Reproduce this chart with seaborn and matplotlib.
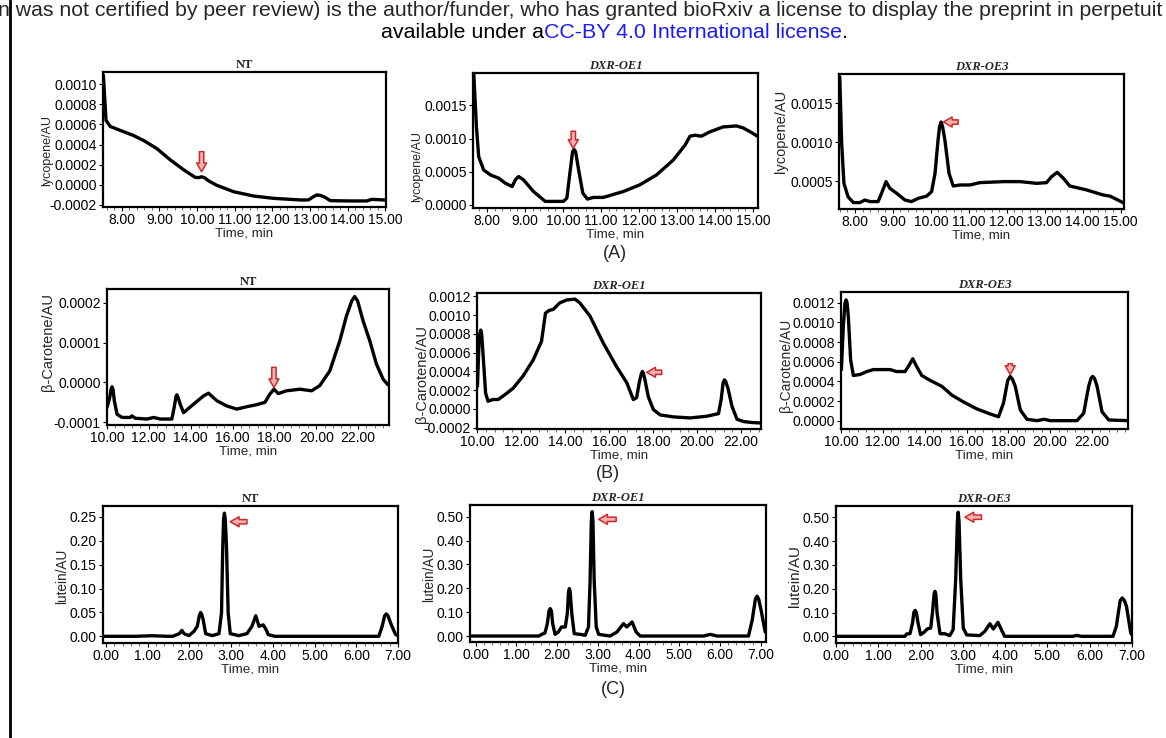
import matplotlib
matplotlib.use("Agg")
import matplotlib.pyplot as plt
import seaborn as sns
from matplotlib.lines import Line2D
from matplotlib.ticker import FixedLocator, FormatStrFormatter, AutoMinorLocator

# ---------------------------------------------------------------------------
# Data (time in min, absorbance in AU)
# (A) lycopene
lyc_nt_t = [7.51, 7.58, 7.69, 7.96, 8.31, 8.58, 8.93, 9.28, 9.64, 9.95, 10.05, 10.12, 10.20,
            10.30, 10.52, 10.97, 11.50, 12.03, 12.74, 12.96, 13.08, 13.18, 13.28, 13.40,
            13.54, 14.07, 14.51, 14.64, 14.95, 15.02]
lyc_nt_v = [0.00109, 0.00064, 0.00058, 0.00054, 0.00049, 0.00044, 0.00036, 0.00025,
            0.00015, 0.000074, 0.000072, 0.00008, 0.00007, 0.000041, -0.000004, -0.000068,
            -0.000111, -0.000134, -0.00015, -0.00015, -0.00012, -0.0001, -0.000105,
            -0.000124, -0.000157, -0.00016, -0.00016, -0.000144, -0.00015, -0.00015]

lyc_oe1_t = [7.65, 7.72, 7.78, 7.91, 8.09, 8.31, 8.48, 8.66, 8.75, 8.83, 8.96, 9.22, 9.53,
             9.75, 10.01, 10.10, 10.19, 10.25, 10.29, 10.33, 10.41, 10.52, 10.64, 10.80,
             11.06, 11.59, 12.02, 12.46, 12.90, 13.21, 13.34, 13.47, 13.64, 13.86, 14.21,
             14.56, 14.74, 14.96, 15.13]
lyc_oe1_v = [0.00198, 0.00118, 0.000725, 0.000525, 0.00045, 0.0004, 0.000325, 0.000275,
             0.00038, 0.000425, 0.000375, 0.0002, 0.00005, 0.00005, 0.00005, 0.0001,
             0.000525, 0.0008, 0.000835, 0.0008, 0.000525, 0.000175, 0.000085, 0.00011,
             0.00011, 0.0002, 0.0003, 0.00045, 0.000675, 0.0009, 0.001035, 0.00105,
             0.001035, 0.0011, 0.001175, 0.00119, 0.00116, 0.00109, 0.00103]

lyc_oe3_t = [7.60, 7.65, 7.71, 7.82, 7.96, 8.13, 8.26, 8.40, 8.61, 8.70, 8.82, 8.92, 9.10,
             9.32, 9.49, 9.67, 9.89, 10.02, 10.11, 10.19, 10.23, 10.27, 10.31, 10.37,
             10.48, 10.59, 10.77, 11.03, 11.29, 11.91, 12.35, 12.79, 13.05, 13.18, 13.33,
             13.49, 13.66, 14.10, 14.54, 14.72, 14.89, 15.09]
lyc_oe3_v = [0.00184, 0.00099, 0.000474, 0.0003, 0.000227, 0.000227, 0.00026, 0.00024,
             0.00024, 0.000346, 0.000496, 0.00041, 0.000346, 0.00026, 0.00024, 0.000282,
             0.00031, 0.000368, 0.0006, 0.00103, 0.0012, 0.00126, 0.0012, 0.00103, 0.0006,
             0.00044, 0.000453, 0.000453, 0.000483, 0.000496, 0.000496, 0.000474,
             0.000483, 0.00056, 0.000615, 0.00054, 0.00044, 0.00039, 0.000325, 0.00031,
             0.00027, 0.00022]

# (B) beta-carotene
car_nt_t = [10.00, 10.13, 10.20, 10.24, 10.29, 10.35, 10.48, 10.72, 11.11, 11.19, 11.35,
            11.91, 12.23, 12.54, 13.10, 13.21, 13.30, 13.34, 13.40, 13.50, 13.66, 14.13,
            14.61, 14.85, 15.25, 15.72, 16.20, 16.68, 17.15, 17.55, 17.79, 17.98, 18.19,
            18.58, 19.22, 19.78, 20.17, 20.65, 21.13, 21.45, 21.70, 21.84, 21.98, 22.24,
            22.56, 22.88, 23.20, 23.43]
car_nt_v = [-0.000063, -0.000038, -0.000016, -0.000011, -0.000018, -0.000046, -0.00008,
            -0.000088, -0.000088, -0.000084, -0.00009, -0.000092, -0.000088, -0.000092,
            -0.000092, -0.000063, -0.000035, -0.000031, -0.000038, -0.000055, -0.000076,
            -0.000055, -0.000034, -0.000027, -0.000046, -0.000059, -0.000067, -0.000061,
            -0.000056, -0.00005, -0.000029, -0.000017, -0.000028, -0.000021, -0.000017,
            -0.000021, -0.000008, 0.000029, 0.000105, 0.000168, 0.000205, 0.000216,
            0.000205, 0.000155, 0.000105, 0.000046, 0.000008, -0.000006]

car_oe1_t = [10.02, 10.09, 10.13, 10.17, 10.21, 10.27, 10.39, 10.50, 10.73, 10.96, 11.26,
             11.64, 12.09, 12.55, 12.93, 13.11, 13.28, 13.46, 13.76, 14.07, 14.45, 14.67,
             15.13, 15.74, 16.34, 16.80, 17.10, 17.25, 17.37, 17.46, 17.51, 17.56, 17.63,
             17.78, 18.01, 18.32, 18.92, 19.68, 20.44, 20.97, 21.09, 21.18, 21.24, 21.30,
             21.40, 21.58, 21.81, 22.11, 22.50, 22.87]
car_oe1_v = [0.00024, 0.0007, 0.0008, 0.00084, 0.0008, 0.0006, 0.00017, 0.000082, 0.0001,
             0.0001, 0.00015, 0.00022, 0.00035, 0.00052, 0.00072, 0.00102, 0.00105,
             0.00106, 0.00113, 0.00116, 0.00117, 0.00113, 0.00099, 0.0007, 0.00045,
             0.00028, 0.0001, 0.00012, 0.00028, 0.00037, 0.0004, 0.00038, 0.00031, 0.00013,
             -0.000007, -0.000064, -0.000085, -0.000096, -0.000078, -0.00005, 0.0001,
             0.00028, 0.00031, 0.00029, 0.00022, 0.00003, -0.00011, -0.000135, -0.000145,
             -0.00015]

car_oe3_t = [10.02, 10.11, 10.19, 10.24, 10.29, 10.35, 10.46, 10.59, 10.91, 11.23, 11.55,
             12.35, 12.66, 13.06, 13.27, 13.43, 13.62, 13.86, 14.26, 14.82, 15.30, 15.86,
             16.49, 17.13, 17.53, 17.77, 17.97, 18.09, 18.20, 18.33, 18.57, 18.89, 19.37,
             19.72, 20.00, 21.28, 21.60, 21.84, 21.95, 22.03, 22.12, 22.24, 22.48, 22.80,
             23.68]
car_oe3_v = [0.00052, 0.00096, 0.0012, 0.00123, 0.0012, 0.00106, 0.00062, 0.00046, 0.00047,
             0.0005, 0.00052, 0.00052, 0.0005, 0.0005, 0.00057, 0.00063, 0.00055, 0.00046,
             0.00041, 0.00035, 0.00026, 0.00019, 0.00012, 0.000068, 0.00004, 0.00018,
             0.00041, 0.00045, 0.00042, 0.00035, 0.00011, 0.000014, 0.0, 0.000014, 0.0, 0.0,
             0.000075, 0.00035, 0.00043, 0.00045, 0.00043, 0.00035, 0.00009, 0.000007, 0.0]

# (C) lutein
lut_nt_t = [-0.06, 0.70, 1.10, 1.50, 1.60, 1.76, 1.82, 1.87, 1.99, 2.11, 2.19, 2.24, 2.27,
            2.30, 2.33, 2.39, 2.55, 2.71, 2.77, 2.80, 2.82, 2.84, 2.86, 2.89, 2.93, 2.98,
            3.18, 3.38, 3.50, 3.59, 3.67, 3.77, 3.84, 3.89, 4.05, 6.54, 6.62, 6.68, 6.72,
            6.76, 6.84, 6.94, 7.00]
lut_nt_v = [0.0, 0.0, 0.0012, 0.0, 0.0, 0.0056, 0.0125, 0.0056, 0.0014, 0.0104, 0.021,
            0.044, 0.05, 0.045, 0.035, 0.0056, 0.0014, 0.0056, 0.049, 0.187, 0.245, 0.258,
            0.245, 0.187, 0.049, 0.0056, 0.0014, 0.0056, 0.021, 0.043, 0.021, 0.024, 0.014,
            0.0035, 0.0, 0.0, 0.021, 0.043, 0.047, 0.043, 0.024, 0.004, 0.001]

lut_oe1_t = [-0.14, 1.55, 1.62, 1.70, 1.76, 1.80, 1.83, 1.86, 1.89, 1.95, 2.03, 2.11, 2.20,
             2.25, 2.28, 2.30, 2.32, 2.36, 2.42, 2.57, 2.69, 2.77, 2.81, 2.84, 2.86, 2.88,
             2.91, 2.96, 3.02, 3.30, 3.47, 3.63, 3.71, 3.84, 3.94, 4.04, 5.60, 5.76, 5.93,
             6.70, 6.79, 6.87, 6.91, 6.95, 7.01, 7.11]
lut_oe1_v = [0.0, 0.0, 0.007, 0.0126, 0.052, 0.105, 0.115, 0.105, 0.052, 0.007, 0.017,
             0.038, 0.038, 0.094, 0.185, 0.199, 0.185, 0.094, 0.0098, 0.007, 0.003, 0.038,
             0.234, 0.48, 0.521, 0.48, 0.234, 0.038, 0.007, 0.0, 0.017, 0.052, 0.038, 0.059,
             0.017, 0.0, 0.0, 0.007, 0.0, 0.0, 0.066, 0.155, 0.167, 0.155, 0.108, 0.017]

lut_oe3_t = [0.0, 1.63, 1.67, 1.75, 1.81, 1.84, 1.87, 1.90, 1.94, 2.00, 2.08, 2.16, 2.24,
             2.28, 2.32, 2.34, 2.36, 2.39, 2.46, 2.57, 2.69, 2.77, 2.83, 2.87, 2.89, 2.91,
             2.95, 3.01, 3.09, 3.40, 3.52, 3.64, 3.72, 3.83, 3.91, 3.99, 5.60, 5.69, 5.80,
             6.55, 6.63, 6.72, 6.77, 6.82, 6.87, 6.97, 7.00]
lut_oe3_v = [0.0, 0.0, 0.01, 0.011, 0.056, 0.1, 0.109, 0.1, 0.056, 0.007, 0.017, 0.031,
             0.035, 0.098, 0.178, 0.189, 0.178, 0.098, 0.011, 0.011, 0.003, 0.028, 0.237,
             0.48, 0.521, 0.48, 0.237, 0.035, 0.006, 0.003, 0.021, 0.053, 0.031, 0.059,
             0.028, 0.0, 0.0, 0.004, 0.0, 0.0, 0.042, 0.15, 0.161, 0.15, 0.126, 0.014,
             0.006]

# tick values
lyc_xticks = [8, 9, 10, 11, 12, 13, 14, 15]
car_xticks = [10, 12, 14, 16, 18, 20, 22]
lut_xticks = [0, 1, 2, 3, 4, 5, 6, 7]

# marked peaks: (tail, tip) of the red arrows
arrows = {
    "lyc_nt": ((10.12, 0.00033), (10.12, 0.00013)),
    "lyc_oe1": ((10.27, 0.00111), (10.27, 0.00085)),
    "lyc_oe3": ((10.72, 0.00126), (10.33, 0.00126)),
    "car_nt": ((17.98, 0.000038), (17.98, -0.000013)),
    "car_oe1": ((18.39, 0.00039), (17.71, 0.00039)),
    "car_oe3": ((18.09, 0.00058), (18.09, 0.00047)),
    "lut_nt": ((3.38, 0.24), (2.98, 0.24)),
    "lut_oe1": ((3.45, 0.489), (3.02, 0.489)),
    "lut_oe3": ((3.44, 0.50), (3.05, 0.50)),
}
# ---------------------------------------------------------------------------

W, H = 1166, 738

# layout in pixels: frame (left, top, right, bottom), ylabel right edge offset / centre
panels = [
    dict(key="lyc_nt", t=lyc_nt_t, v=lyc_nt_v, title="NT", box=(103, 72, 386, 207),
         xlim=(7.50, 15.02), ylim=(-0.00022, 0.00112), xt=lyc_xticks,
         yt=[-0.0002, 0.0, 0.0002, 0.0004, 0.0006, 0.0008, 0.0010], yf="%.4f",
         ylab="lycopene/AU", ls=9, lab=(50, 150)),
    dict(key="lyc_oe1", t=lyc_oe1_t, v=lyc_oe1_v, title="DXR-OE1", box=(473, 73, 758, 208),
         xlim=(7.63, 15.13), ylim=(-0.00005, 0.00199), xt=lyc_xticks,
         yt=[0.0, 0.0005, 0.0010, 0.0015], yf="%.4f",
         ylab="lycopene/AU", ls=9, lab=(50, 166)),
    dict(key="lyc_oe3", t=lyc_oe3_t, v=lyc_oe3_v, title="DXR-OE3", box=(839, 74, 1124, 209),
         xlim=(7.58, 15.09), ylim=(0.000145, 0.001876), xt=lyc_xticks,
         yt=[0.0005, 0.0010, 0.0015], yf="%.4f",
         ylab="lycopene/AU", ls=10.5, lab=(51, 131)),
    dict(key="car_nt", t=car_nt_t, v=car_nt_v, title="NT", box=(107, 289, 389, 425),
         xlim=(10.0, 23.48), ylim=(-0.000107, 0.000235), xt=car_xticks,
         yt=[-0.0001, 0.0, 0.0001, 0.0002], yf="%.4f",
         ylab="β-Carotene/AU", ls=10.5, lab=(52, 342)),
    dict(key="car_oe1", t=car_oe1_t, v=car_oe1_v, title="DXR-OE1", box=(477, 293, 761, 429),
         xlim=(10.0, 22.9), ylim=(-0.000214, 0.001235), xt=car_xticks,
         yt=[-0.0002, 0.0, 0.0002, 0.0004, 0.0006, 0.0008, 0.0010, 0.0012], yf="%.4f",
         ylab="β-Carotene/AU", ls=10.5, lab=(48, 374)),
    dict(key="car_oe3", t=car_oe3_t, v=car_oe3_v, title="DXR-OE3", box=(841, 292, 1128, 429),
         xlim=(10.0, 23.72), ylim=(-0.000085, 0.00131), xt=car_xticks,
         yt=[0.0, 0.0002, 0.0004, 0.0006, 0.0008, 0.0010, 0.0012], yf="%.4f",
         ylab="β-Carotene/AU", ls=10, lab=(48, 365)),
    dict(key="lut_nt", t=lut_nt_t, v=lut_nt_v, title="NT", box=(103, 506, 398, 643),
         xlim=(-0.07, 7.0), ylim=(-0.014, 0.273), xt=lut_xticks,
         yt=[0.0, 0.05, 0.10, 0.15, 0.20, 0.25], yf="%.2f",
         ylab="lutein/AU", ls=9.8, lab=(34, 576)),
    dict(key="lut_oe1", t=lut_oe1_t, v=lut_oe1_v, title="DXR-OE1", box=(470, 505, 766, 642),
         xlim=(-0.14, 7.13), ylim=(-0.025, 0.549), xt=lut_xticks,
         yt=[0.0, 0.10, 0.20, 0.30, 0.40, 0.50], yf="%.2f",
         ylab="lutein/AU", ls=9.8, lab=(34, 574)),
    dict(key="lut_oe3", t=lut_oe3_t, v=lut_oe3_v, title="DXR-OE3", box=(836, 506, 1132, 643),
         xlim=(0.0, 7.0), ylim=(-0.028, 0.547), xt=lut_xticks,
         yt=[0.0, 0.10, 0.20, 0.30, 0.40, 0.50], yf="%.2f",
         ylab="lutein/AU", ls=11, lab=(34, 576)),
]

sns.set_style("ticks")
plt.rcParams["font.family"] = ["Liberation Sans", "DejaVu Sans"]
plt.rcParams["axes.unicode_minus"] = False

fig = plt.figure(figsize=(W / 100, H / 100), dpi=100)
fig.patch.set_facecolor("white")

for p in panels:
    l, t, r, b = p["box"]
    ax = fig.add_axes([l / W, 1 - b / H, (r - l) / W, (b - t) / H])
    sns.lineplot(x=p["t"], y=p["v"], ax=ax, color="black", linewidth=2.4,
                 estimator=None, sort=False)
    ax.set_xlim(*p["xlim"])
    ax.set_ylim(*p["ylim"])
    ax.xaxis.set_major_locator(FixedLocator(p["xt"]))
    ax.yaxis.set_major_locator(FixedLocator(p["yt"]))
    ax.xaxis.set_major_formatter(FormatStrFormatter("%.2f"))
    ax.yaxis.set_major_formatter(FormatStrFormatter(p["yf"]))
    ax.xaxis.set_minor_locator(AutoMinorLocator(5))
    ax.tick_params(which="major", direction="out", length=3, width=0.8, pad=1.5,
                   labelsize=10, colors="black")
    ax.tick_params(which="minor", axis="x", direction="out", length=2, width=0.6,
                   colors="#555555")
    for s in ax.spines.values():
        s.set_visible(True)
        s.set_linewidth(1.6)
        s.set_color("black")
    ax.set_xlabel("Time, min", fontsize=9.6, labelpad=0)
    ax.set_ylabel(p["ylab"], fontsize=p["ls"])
    off, cy = p["lab"]
    ax.yaxis.set_label_coords(-off / (r - l), (b - cy) / (b - t))
    style = "normal" if p["title"] == "NT" else "italic"
    ax.set_title(p["title"], fontsize=9, fontweight="bold", style=style,
                 family="Liberation Serif", pad=3)
    tail, tip = arrows[p["key"]]
    ax.annotate("", xy=tip, xytext=tail,
                arrowprops=dict(arrowstyle="simple,head_length=0.7,head_width=0.8,tail_width=0.35",
                                fc="#f4b0b0", ec="#cc2a2a", lw=1.1, mutation_scale=9,
                                shrinkA=0, shrinkB=0))

# panel letters
fig.text(615 / W, 1 - 254 / H, "(A)", ha="center", va="center", fontsize=13)
fig.text(608 / W, 1 - 473 / H, "(B)", ha="center", va="center", fontsize=13)
fig.text(613 / W, 1 - 689 / H, "(C)", ha="center", va="center", fontsize=13)

# page furniture from the preprint header
fig.add_artist(Line2D([9.5 / W, 9.5 / W], [0, 1], color="black", linewidth=2))
fig.text(-2 / W, 1 - 11 / H,
         "n was not certified by peer review) is the author/funder, who has granted "
         "bioRxiv a license to display the preprint in perpetuit",
         ha="left", va="center", fontsize=15.3)
fig.canvas.draw()
rend = fig.canvas.get_renderer()
x0 = 381
pieces = [("available under a", "black"), ("CC-BY 4.0 International license", "#1a1aff"),
          (".", "black")]
for txt, col in pieces:
    tx = fig.text(x0 / W, 1 - 32 / H, txt, ha="left", va="center", fontsize=15.4, color=col)
    x0 += tx.get_window_extent(renderer=rend).width

fig.savefig("out.png", dpi=100)
